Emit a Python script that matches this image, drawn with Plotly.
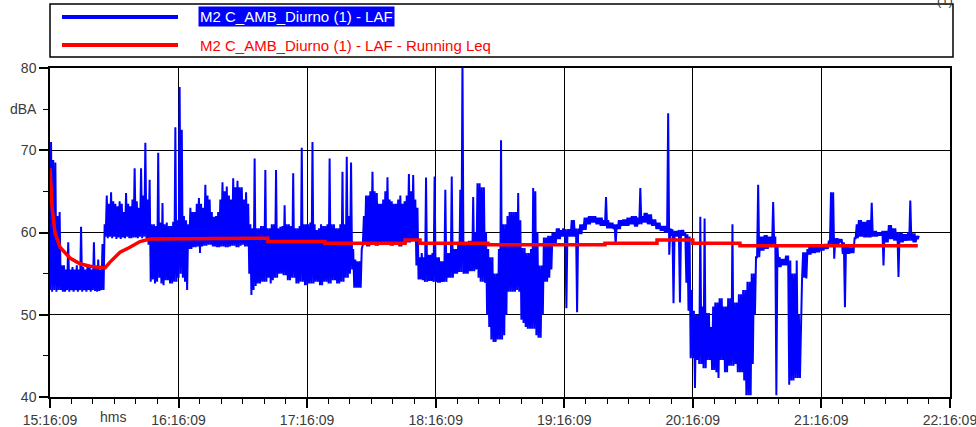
import pandas as pd
import plotly.graph_objects as go

# ---- data ----
start_time = "2021-01-01 15:16:09"

# LAF, per minute from 15:16:09: lowest and highest level seen in that minute (dBA)
laf_low = [
    53, 52.8, 53, 52.8, 53, 53, 52.8, 52.8, 53, 52.8,
    53, 52.8, 53, 52.8, 53, 52.8, 53, 52.8, 53, 52.8,
    53, 52.9, 52.8, 52.9, 53, 53, 59.5, 59.3, 59.5, 59.3,
    59.5, 59.2, 59.4, 59.2, 59.4, 59.3, 59.5, 59.3, 59.3, 59.4,
    59.4, 59.3, 59.5, 59.3, 59.5, 59.3, 58.5, 54, 54.3, 53.8,
    54, 54.5, 53.8, 53.6, 54.2, 54.2, 53.8, 53.8, 54, 54,
    54.5, 55, 54.5, 54, 53, 58, 58, 58.2, 58.2, 58.3,
    57.5, 58.3, 58.4, 58.4, 58.5, 58.5, 58.3, 58.3, 58.2, 58.2,
    58.3, 58.3, 58.2, 58.2, 58.3, 58.4, 58.4, 58.2, 58.2, 58.4,
    58.5, 58.3, 58.3, 55, 52.4, 53, 53.5, 53.8, 53.8, 54,
    54, 54, 54.5, 53.8, 54.2, 54.5, 54.5, 55, 55, 54.8,
    54.8, 54.2, 54.2, 54.5, 54.5, 53.8, 53.8, 54, 54, 53.6,
    53.6, 53.8, 53.8, 53.8, 54, 54, 53.6, 53.6, 54, 54,
    53.8, 53.8, 54.2, 54.2, 53.8, 53.8, 54, 54, 54.5, 54.5,
    55, 55.5, 53.3, 53.3, 53.3, 53.3, 58.5, 58.5, 58.3, 58.3,
    58.5, 58.5, 58.4, 58.4, 58.6, 58.6, 58.5, 58.5, 58.5, 58.4,
    58.4, 58.5, 58.5, 58.3, 58.3, 58.6, 58.6, 58.8, 58.8, 59,
    59, 56, 54.3, 54.3, 54.2, 54, 54, 54.1, 54.1, 54,
    54, 53.9, 53.9, 54, 54, 54, 54.5, 54.5, 54.5, 55,
    55, 55.2, 55.2, 55, 55, 55, 55.3, 55.3, 55.3, 55.5,
    54.5, 54, 54, 53.9, 50, 48.5, 47, 46.7, 46.7, 47,
    47, 47, 47.5, 50, 52.8, 52.8, 52.8, 52.8, 53, 52.8,
    49.4, 49, 48.5, 48.3, 48.3, 48.3, 48.3, 47.5, 47.2, 47.2,
    50, 54, 54, 54.5, 55.5, 58.5, 58.5, 59.2, 59.2, 59.5,
    59.5, 50.8, 59.5, 59.5, 59.5, 59.5, 50.3, 59.8, 59.8, 60.3,
    60.3, 61, 61, 61.2, 61.2, 61, 61, 60.8, 60.8, 60.8,
    60.5, 60.5, 60.5, 60.4, 58.5, 60.4, 60.4, 60.8, 60.8, 60.8,
    60.8, 61, 61, 60.7, 60.7, 61, 61, 61.2, 61.2, 61,
    61, 60.8, 60.8, 60.4, 60.4, 60.2, 60.2, 60, 60, 57.3,
    59.6, 51.4, 59.5, 59.5, 51.5, 59.6, 59.6, 53.9, 50.5, 44.7,
    44.7, 41.1, 44.5, 44, 44, 43.5, 43.5, 44.5, 44.5, 43.3,
    43.3, 43, 42.3, 44.5, 44.5, 43, 43, 43.8, 43.8, 43.8,
    44, 43, 43, 43, 42, 40.2, 40.2, 40.2, 44, 50,
    57, 57, 57.8, 57.8, 58, 58, 58.5, 58.5, 58.5, 40.2,
    55.8, 55.8, 56, 56, 56, 41.5, 42, 42, 42.3, 42.3,
    42.3, 54.5, 54.5, 54.4, 57.3, 57.3, 57.5, 57.5, 57.6, 57.6,
    57.8, 57.8, 58, 58, 58.6, 58.6, 56.8, 58.6, 58.6, 58.8,
    57.4, 50.9, 57.4, 57.4, 57.5, 57.5, 59.3, 59.3, 59.5, 59.5,
    59.4, 59.4, 59.4, 59.4, 59.5, 59.5, 59.5, 59.6, 59.6, 56,
    58.8, 58.8, 59.2, 59.2, 59, 59, 54.6, 58.8, 58.8, 59,
    59, 59, 59, 58.8, 58.8, 59.2,
]
laf_high = [
    71, 68.8, 68.5, 62, 62.5, 56, 56, 55.5, 58.8, 55.5,
    55.8, 55.5, 56, 55.5, 60.7, 55.8, 55.5, 56, 56, 55.5,
    58.8, 55.8, 56.7, 55.5, 58.6, 61, 64.5, 63.5, 64.9, 63.8,
    63.5, 63.2, 63.8, 63.5, 62.5, 64.8, 63.5, 63.2, 64, 67.8,
    63.8, 63, 67.8, 64.5, 70.9, 64, 66.4, 61, 61, 60.8,
    69.7, 61.2, 63.6, 61, 61.2, 60.8, 60.8, 61.3, 72.8, 61.5,
    77.7, 72.5, 62, 61.5, 61, 63, 62.5, 62.5, 63.5, 64.2,
    63.5, 63, 65.8, 64.5, 64, 62.5, 61.9, 62, 62.5, 64,
    66.1, 65, 65.6, 64.5, 64, 66.6, 65.5, 66.3, 65.5, 65.5,
    64, 64.9, 63.5, 61, 60.5, 69, 60.5, 60.5, 60.8, 60.8,
    67.6, 60.5, 60.5, 61, 61, 67.6, 60.5, 60.7, 60.8, 63.3,
    61, 61, 60.8, 67.2, 60.5, 60.5, 60.8, 70.3, 61, 61,
    61, 61.2, 71, 61, 60.3, 60.5, 61, 60.8, 60.8, 61,
    69, 61, 61, 60.5, 60.5, 61, 67.4, 61, 69.2, 62,
    68.5, 58, 56.7, 56.5, 56.5, 58, 62, 64.5, 64.5, 65,
    67.4, 65, 64.8, 63.5, 63.5, 64, 65, 66.7, 64, 63.8,
    63.5, 63.5, 64, 64.5, 63.5, 63.8, 64.5, 67.1, 65, 67,
    64, 63, 57, 57.5, 57, 66.7, 57.3, 57.3, 57.5, 66.8,
    57, 57, 56.5, 56.5, 65.2, 57.5, 57.5, 66.8, 58, 58,
    58.5, 65.2, 81, 58.5, 58.5, 59, 59, 64.3, 60, 66,
    66, 65.5, 65.5, 60, 58, 57, 57, 55, 55, 58,
    71.2, 61, 61, 62, 62.5, 62.5, 62.5, 62.5, 64.8, 61.5,
    58.1, 58.1, 57.5, 57.5, 58, 65.4, 65, 60, 56, 56,
    59.4, 59.4, 59.6, 59.6, 60, 60, 60.5, 60.5, 60.3, 60.5,
    60.4, 60.4, 60.4, 61.5, 61.5, 60.5, 60.5, 61, 61, 61.8,
    61.8, 62, 62, 62, 62, 61.8, 61.8, 61.8, 61.5, 64.3,
    61.5, 61.2, 61.2, 61, 61, 61.5, 61.5, 61.6, 61.6, 61.8,
    61.8, 62, 62, 62, 61.8, 65.4, 62, 62.4, 62.4, 62.2,
    62.2, 61.6, 61.6, 61.2, 61.2, 60.8, 60.8, 60.8, 74.5, 60.5,
    60.4, 60.2, 60.2, 60.3, 60.3, 60.3, 60, 59.8, 59.5, 53,
    50.5, 50, 50, 61.9, 51, 61.7, 50.2, 50.2, 48.5, 51,
    51.5, 51.5, 52, 52, 51, 51, 52, 52, 61, 51.5,
    51.5, 52.5, 52.5, 53, 53, 54, 54, 55, 55, 57,
    65.8, 59.5, 59.5, 59.7, 59.7, 59.5, 59.5, 63.7, 59.5, 58.5,
    57, 56.8, 56.8, 57.2, 57.2, 56.6, 55, 55, 56.6, 50,
    50, 57.6, 57.6, 58, 58.5, 58.5, 58.5, 58.3, 58.3, 58.5,
    58.5, 58.6, 58.6, 59, 64.9, 64.9, 59.3, 59.3, 59.2, 59.2,
    58.8, 58.5, 58.5, 58.2, 58.2, 59.3, 61, 61.5, 61.5, 61.3,
    61.3, 61.5, 61.5, 63.6, 60.2, 60.2, 60, 60, 60.2, 60.2,
    60.2, 60.9, 60.9, 60.5, 60.5, 60, 60, 60, 59.8, 59.8,
    60, 63.9, 59.9, 59.9, 59.6, 59.6,
]

# Running Leq (minutes from start, dBA)
leq_minutes = [0, 0.9, 2.3, 4.7, 9.3, 14, 18.7, 23.3, 25.7, 28, 32.7, 37.3, 42, 46.7,
               75, 75, 101.7, 101.7, 128.3, 128.3, 165.7, 165.7, 172.7, 172.7,
               204.4, 204.4, 259, 259, 283.3, 283.3, 300, 300, 322, 322, 405]
leq_values = [67.8, 63.3, 60, 58.2, 56.9, 56.2, 55.9, 55.7, 55.7, 56.4, 57.6, 58.2, 58.9, 59.2,
              59.2, 59.3, 59.3, 58.9, 58.9, 58.7, 58.7, 59.1, 59.1, 58.7,
              58.7, 58.5, 58.5, 58.7, 58.7, 59.1, 59.1, 58.7, 58.7, 58.4, 58.4]

name_laf = "M2 C_AMB_Diurno (1) - LAF"
name_leq = "M2 C_AMB_Diurno (1) - LAF - Running Leq"
y_range = [40, 80]
hours_span = 7

# ---- figure ----
t0 = pd.Timestamp(start_time)
laf_t, laf_y = [], []
for i, (lo, hi) in enumerate(zip(laf_low, laf_high)):
    laf_t += [t0 + pd.Timedelta(minutes=i), t0 + pd.Timedelta(minutes=i + 0.5)]
    laf_y += [lo, hi]
leq_t = t0 + pd.to_timedelta(leq_minutes, unit="m")
t_end = t0 + pd.Timedelta(hours=hours_span) + pd.Timedelta(seconds=2)

FONT = "Liberation Sans, Arial, sans-serif"
TXT = "#3a3a3a"

fig = go.Figure()
fig.add_trace(go.Scatter(x=laf_t, y=laf_y, mode="lines", name=name_laf,
                         line=dict(color="#0000ff", width=2)))
fig.add_trace(go.Scatter(x=leq_t, y=leq_values, mode="lines", name=name_leq,
                         line=dict(color="#ff0000", width=3.5)))

W, H = 976, 427
L, R, T, B = 50, 26, 68, 30
pw, ph = W - L - R, H - T - B
def px(x):
    return (x - L) / pw
def py(y):
    return (H - B - y) / ph

axis_common = dict(showgrid=True, gridcolor="black", gridwidth=1,
                   ticks="outside", ticklen=9, tickcolor="black", tickwidth=1.5,
                   showline=True, linecolor="black", linewidth=1.5, mirror=True,
                   zeroline=False, automargin=False, tickfont=dict(size=14, color=TXT))

fig.update_layout(
    width=W, height=H, showlegend=False,
    margin=dict(l=L, r=R, t=T, b=B, autoexpand=False),
    paper_bgcolor="white", plot_bgcolor="white",
    font=dict(family=FONT, size=14, color=TXT),
    xaxis=dict(type="date", range=[t0, t_end], tick0=t0, dtick=3600000,
               tickformat="%H:%M:%S", ticklabeloverflow="allow",
               minor=dict(dtick=600000, tick0=t0, ticks="outside", ticklen=5,
                          tickcolor="black", tickwidth=1, showgrid=False),
               **axis_common),
    yaxis=dict(range=y_range, dtick=10,
               minor=dict(dtick=5, ticks="outside", ticklen=5, tickcolor="black",
                          tickwidth=1, showgrid=False),
               **axis_common),
)

# axis unit labels
fig.add_annotation(x=0, xref="paper", y=75, yref="y", text="dBA", showarrow=False,
                   xanchor="right", xshift=-11, font=dict(size=14, color=TXT))
fig.add_annotation(x=t0 + pd.Timedelta(minutes=29.4), xref="x", y=0, yref="paper",
                   text="hms", showarrow=False, yanchor="top", yshift=-10,
                   font=dict(size=14, color=TXT))

# legend box drawn manually
fig.add_shape(type="rect", xref="paper", yref="paper", x0=px(50), x1=px(953),
              y0=py(57), y1=py(4), line=dict(color="black", width=1.5),
              fillcolor="white", layer="above")
fig.add_shape(type="line", xref="paper", yref="paper", x0=px(62), x1=px(178),
              y0=py(17), y1=py(17), line=dict(color="#0000ff", width=4))
fig.add_shape(type="line", xref="paper", yref="paper", x0=px(62), x1=px(178),
              y0=py(45), y1=py(45), line=dict(color="#ff0000", width=4))
fig.add_annotation(x=px(198), xref="paper", y=py(17), yref="paper", text=name_laf,
                   showarrow=False, xanchor="left", yanchor="middle",
                   bgcolor="#0000ff", borderpad=1,
                   font=dict(size=15, color="white", family=FONT))
fig.add_annotation(x=px(198), xref="paper", y=py(45), yref="paper", text=name_leq,
                   showarrow=False, xanchor="left", yanchor="middle",
                   font=dict(size=15, color="#ff0000", family=FONT))
fig.add_annotation(x=px(945), xref="paper", y=py(1), yref="paper", text="(1)",
                   showarrow=False, xanchor="center", yanchor="middle",
                   font=dict(size=13, color=TXT, family=FONT))

fig.write_html("out.html")
